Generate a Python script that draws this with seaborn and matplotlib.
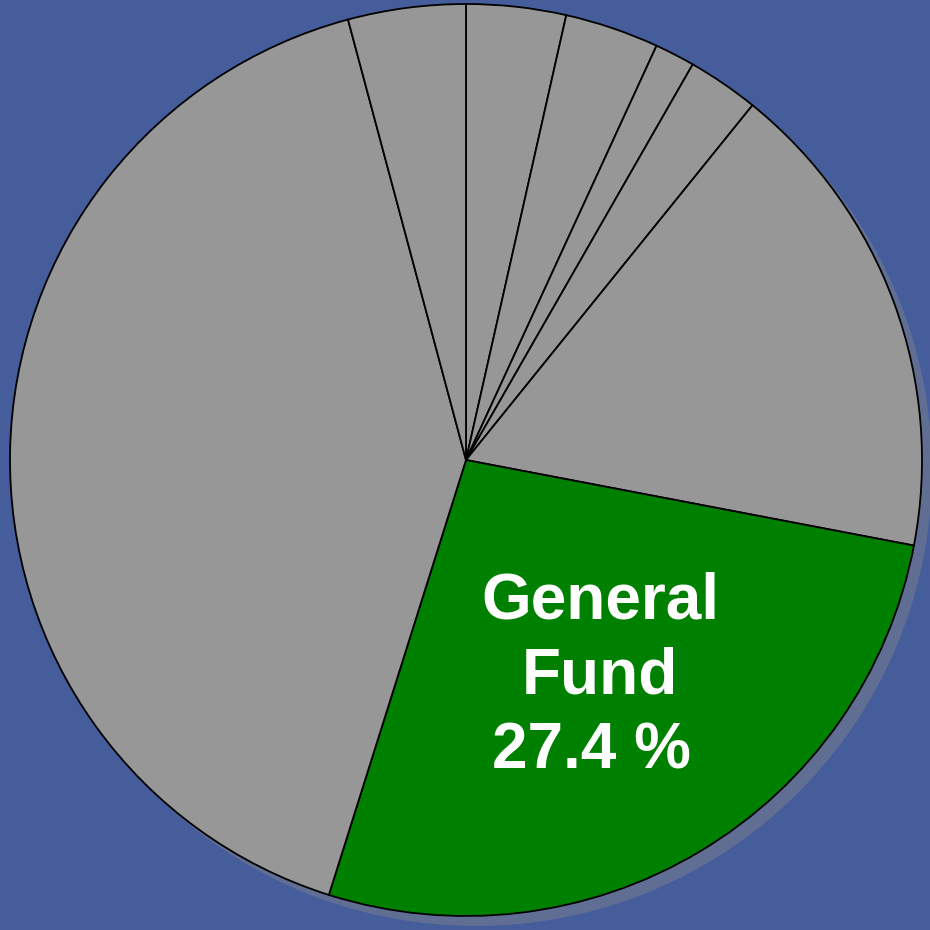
import matplotlib
matplotlib.use('Agg')
import matplotlib.pyplot as plt
import seaborn as sns

sns.set_theme(style='white')
plt.rcParams['font.family'] = ['Liberation Sans', 'DejaVu Sans']

# slices, clockwise from the top
funds = ['Fund A', 'Fund B', 'Fund C', 'Fund D', 'Fund E', 'General Fund', 'Fund F', 'Fund G']
shares = [3.6, 3.4, 1.45, 2.58, 17.54, 27.4, 41.8, 4.25]
highlight = 'General Fund'

bg = '#465d9c'
gray = '#979797'
green = '#008000'
shadow = '#5f6e92'

colors = [green if f == highlight else gray for f in funds]

fig = plt.figure(figsize=(9.3, 9.3), dpi=100, facecolor=bg)
ax = fig.add_axes([0, 0, 1, 1])
ax.set_facecolor(bg)

# drop shadow behind the pie
ax.pie(shares, colors=[shadow] * len(shares), startangle=90, counterclock=False,
       center=(0.022, -0.022), wedgeprops=dict(linewidth=0))
ax.pie(shares, colors=colors, startangle=90, counterclock=False,
       wedgeprops=dict(edgecolor='black', linewidth=1.3))

i = funds.index(highlight)
ax.text(0.294, -0.475, 'General\nFund\n{:.1f} % '.format(shares[i]),
        ha='center', va='center', multialignment='center', color='white',
        fontsize=46, fontweight='bold', linespacing=1.32)

ax.set_xlim(-466 / 456, 464 / 456)
ax.set_ylim(-470 / 456, 460 / 456)
ax.set_aspect('equal')
ax.axis('off')

fig.savefig('out.png', dpi=100, facecolor=bg)
